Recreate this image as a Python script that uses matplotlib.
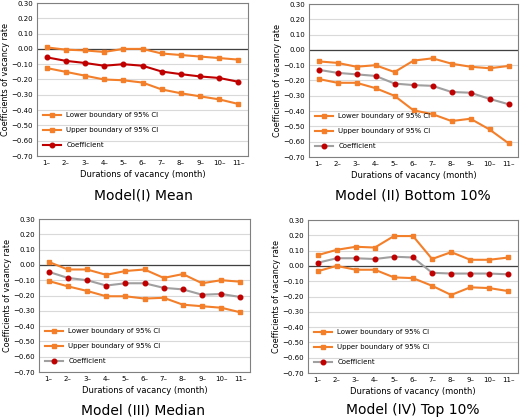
import matplotlib
matplotlib.use("Agg")
import matplotlib.pyplot as plt

cats = ["1–","2–","3–","4–","5–","6–","7–","8–","9–","10–","11–"]
titles = ["Model(I) Mean","Model (II) Bottom 10%","Model (III) Median","Model (IV) Top 10%"]
upper = [
 [0.01,-0.005,-0.01,-0.02,0.0,0.0,-0.03,-0.04,-0.05,-0.06,-0.07],
 [-0.075,-0.085,-0.11,-0.10,-0.145,-0.07,-0.055,-0.09,-0.11,-0.12,-0.105],
 [0.02,-0.03,-0.03,-0.065,-0.04,-0.03,-0.085,-0.06,-0.12,-0.10,-0.11],
 [0.07,0.105,0.125,0.12,0.195,0.195,0.045,0.09,0.04,0.04,0.055],
]
coef = [
 [-0.055,-0.078,-0.092,-0.11,-0.10,-0.11,-0.148,-0.165,-0.18,-0.19,-0.215],
 [-0.13,-0.15,-0.16,-0.17,-0.22,-0.23,-0.235,-0.275,-0.28,-0.32,-0.355],
 [-0.045,-0.085,-0.10,-0.135,-0.12,-0.12,-0.15,-0.16,-0.195,-0.19,-0.21],
 [0.02,0.05,0.05,0.045,0.06,0.055,-0.045,-0.05,-0.05,-0.05,-0.055],
]
lower = [
 [-0.125,-0.15,-0.175,-0.20,-0.205,-0.22,-0.265,-0.29,-0.31,-0.33,-0.36],
 [-0.19,-0.215,-0.215,-0.25,-0.30,-0.395,-0.42,-0.465,-0.45,-0.52,-0.61],
 [-0.105,-0.14,-0.17,-0.205,-0.205,-0.22,-0.215,-0.26,-0.27,-0.28,-0.31],
 [-0.035,0.0,-0.025,-0.025,-0.075,-0.08,-0.13,-0.19,-0.14,-0.145,-0.165],
]

W, H = 520, 419
fig = plt.figure(figsize=(W/100, H/100), dpi=100)
boxes = [(37,3,248,156),(309,4,518,157),(39,219,250,372),(308,220,518,373)]
titlepos = [(143,195),(413,195),(143,410),(413,410)]
orange = "#F37F2A"
red = "#C00000"
x = list(range(len(cats)))
yt = [0.3,0.2,0.1,0.0,-0.1,-0.2,-0.3,-0.4,-0.5,-0.6,-0.7]
for i in range(4):
    l,t,r,b = boxes[i]
    ax = fig.add_axes([l/W, 1-b/H, (r-l)/W, (b-t)/H])
    ax.plot(x, lower[i], color=orange, marker="s", ms=2.8, lw=1.5, label="Lower boundary of 95% CI")
    ax.plot(x, upper[i], color=orange, marker="s", ms=2.8, lw=1.5, label="Upper boundary of 95% CI")
    lc = red if i == 0 else "#A0A0A0"
    ax.plot(x, coef[i], color=lc, marker="o", mfc=red, mec=red, ms=3.3, lw=1.5, label="Coefficient")
    ax.set_ylim(-0.70, 0.30)
    ax.set_xlim(-0.5, len(cats)-0.5)
    ax.set_yticks(yt)
    ax.set_yticklabels(["%.2f" % v if v >= 0 else "−%.2f" % -v for v in yt])
    ax.set_xticks(x)
    ax.set_xticklabels(cats)
    ax.tick_params(labelsize=5, length=0, pad=3)
    ax.grid(axis="y", color="#D9D9D9", lw=0.8)
    ax.set_axisbelow(True)
    ax.axhline(0, color="#404040", lw=0.9, zorder=1)
    for s in ax.spines.values():
        s.set_color("#808080"); s.set_linewidth(0.8)
    ax.set_ylabel("Coefficients of vacancy rate", fontsize=5.8, labelpad=1)
    ax.set_xlabel("Durations of vacancy (month)", fontsize=6, labelpad=3)
    ax.legend(loc="lower left", frameon=False, fontsize=5, handlelength=2.5, labelspacing=1.3, bbox_to_anchor=(0.0, 0.01))
    tx, ty = titlepos[i]
    fig.text(tx/W, 1-ty/H, titles[i], ha="center", va="center", fontsize=10)
fig.savefig("out.png", dpi=100)
